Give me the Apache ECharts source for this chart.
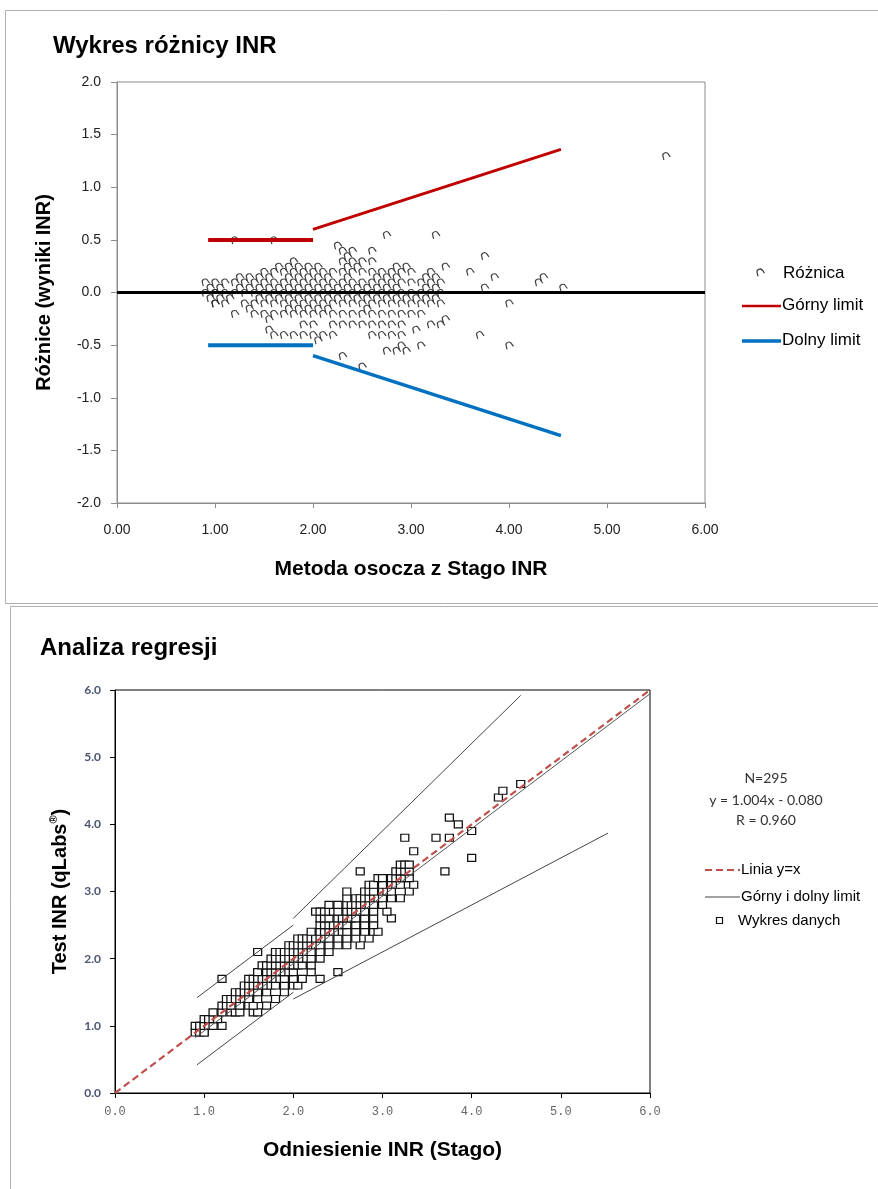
<!DOCTYPE html>
<html><head><meta charset="utf-8">
<script src="https://cdn.jsdelivr.net/npm/echarts@6/dist/echarts.min.js"></script>
<style>html,body{margin:0;padding:0;background:#fff}#c{width:878px;height:1189px}</style>
</head><body><div id="c"></div>
<script>
// ---- DATA ----
// Test INR levels (qLabs) and the reference (Stago) INR values observed at each level
const testLevels = [0.9, 1.0, 1.1, 1.2, 1.3, 1.4, 1.5, 1.6, 1.7, 1.8, 1.9, 2.0, 2.1, 2.2, 2.3, 2.4, 2.5, 2.6, 2.7, 2.8, 2.9, 3.0, 3.1, 3.2, 3.3, 3.4, 3.5, 3.6, 3.8, 3.9, 4.0, 4.1, 4.4, 4.5, 4.6, 6.9];
const refAtLevel = [
  [0.9, 0.95, 1.0, 1.0],
  [0.9, 0.95, 1.0, 1.0, 1.05, 1.1, 1.2],
  [1.0, 1.05, 1.1, 1.15],
  [1.1, 1.2, 1.3, 1.35, 1.4, 1.55, 1.6],
  [1.2, 1.25, 1.3, 1.4, 1.5, 1.55, 1.7],
  [1.25, 1.3, 1.35, 1.4, 1.45, 1.5, 1.6, 1.8],
  [1.35, 1.4, 1.45, 1.5, 1.55, 1.6, 1.7, 1.9],
  [1.45, 1.5, 1.55, 1.6, 1.65, 1.7, 1.75, 1.8, 1.9, 2.0, 2.05],
  [1.2, 1.5, 1.55, 1.6, 1.65, 1.7, 1.75, 1.8, 1.85, 1.9, 2.0, 2.1, 2.3],
  [1.6, 1.7, 1.75, 1.8, 1.85, 1.9, 1.95, 2.0, 2.2, 2.5],
  [1.65, 1.7, 1.75, 1.8, 1.85, 1.9, 1.95, 2.0, 2.05, 2.1, 2.2],
  [1.75, 1.8, 1.85, 1.9, 1.95, 2.0, 2.05, 2.1, 2.15, 2.2, 2.3],
  [1.6, 1.8, 1.85, 1.9, 1.95, 2.0, 2.05, 2.1, 2.15, 2.2, 2.3, 2.4],
  [1.95, 2.0, 2.05, 2.1, 2.15, 2.2, 2.25, 2.3, 2.4, 2.5, 2.6, 2.75],
  [2.05, 2.1, 2.15, 2.2, 2.25, 2.3, 2.35, 2.4, 2.5, 2.6, 2.7, 2.85],
  [2.2, 2.3, 2.35, 2.4, 2.45, 2.5, 2.55, 2.6, 2.7, 2.8, 2.9, 2.95],
  [2.3, 2.35, 2.4, 2.45, 2.5, 2.55, 2.6, 2.7, 2.8, 2.9],
  [2.3, 2.35, 2.4, 2.5, 2.55, 2.6, 2.65, 2.7, 2.8, 2.9, 3.1],
  [2.25, 2.3, 2.35, 2.4, 2.45, 2.5, 2.6, 2.65, 2.7, 2.75, 2.8, 2.9, 3.05],
  [2.4, 2.5, 2.6, 2.65, 2.7, 2.75, 2.8, 2.85, 2.9, 3.0],
  [2.6, 2.7, 2.75, 2.8, 2.85, 2.9, 2.95, 3.0, 3.1, 3.2],
  [2.6, 2.8, 2.85, 2.9, 3.0, 3.05, 3.1, 3.3],
  [2.85, 2.9, 3.0, 3.1, 3.15, 3.2, 3.35],
  [2.95, 3.0, 3.1, 3.15, 3.2, 3.25, 3.3],
  [2.75, 3.15, 3.2, 3.25, 3.3, 3.7],
  [3.2, 3.25, 3.3],
  [4.0],
  [3.35],
  [3.25, 3.6, 3.75],
  [4.0],
  [3.85],
  [3.75],
  [4.3],
  [4.35],
  [4.55],
  [5.6]
];

// Difference plot limits (Stago INR vs difference)
const diffLimitXLow = [0.93, 2.0];
const diffUpperLow = [0.5, 0.5];
const diffLowerLow = [-0.5, -0.5];
const diffLimitXHigh = [2.0, 4.53];
const diffUpperHigh = [0.6, 1.36];
const diffLowerHigh = [-0.6, -1.36];
const zeroX = [0, 6];
const zeroY = [0, 0];

// Regression plot lines
const identityX = [0, 6];
const identityY = [0, 6];
const regX = [0.9, 6.0];
const regY = [0.824, 5.944];
const upLimXLow = [0.92, 2.0];
const upLimYLow = [1.42, 2.5];
const upLimXHigh = [2.0, 4.55];
const upLimYHigh = [2.6, 5.92];
const loLimXLow = [0.92, 2.0];
const loLimYLow = [0.42, 1.5];
const loLimXHigh = [2.0, 5.53];
const loLimYHigh = [1.4, 3.87];

// Axis ticks
const diffXTicks = [0, 1, 2, 3, 4, 5, 6];
const diffYRange = [-2.0, 2.0, 0.5];
const regRange = [0, 6, 1];
const statsLines = ['N=295', 'y = 1.004x - 0.080', 'R = 0.960'];

// ---- BUILD ----
const pairs = [];
testLevels.forEach((t, i) => refAtLevel[i].forEach(r => pairs.push([r, t])));
const diffPairs = pairs.map(p => [p[0], Math.round((p[1] - p[0]) * 100) / 100]);
const zip = (a, b) => a.map((v, i) => [v, b[i]]);

const F = 'Liberation Sans, Arial, sans-serif';
const archPath = 'path://M0,10 L1,4 C1,1.5 3,0 5,0 C7,0 9,1.5 9,4 L10,10';

const chart = echarts.init(document.getElementById('c'), null, {renderer: 'canvas'});

const lineS = (xi, data, color, width, type) => ({
  type: 'line', xAxisIndex: xi, yAxisIndex: xi, data, symbol: 'none', silent: true,
  clip: true, lineStyle: {color, width, type: type || 'solid'}, animation: false
});

const option = {
  animation: false,
  textStyle: {fontFamily: F},
  grid: [
    {left: 117, top: 82, width: 588, height: 421, show: true, borderColor: '#8c8c8c', borderWidth: 1},
    {left: 115, top: 690, width: 535, height: 403, show: true, borderColor: '#000', borderWidth: 1}
  ],
  xAxis: [
    {gridIndex: 0, type: 'value', min: diffXTicks[0], max: diffXTicks[diffXTicks.length - 1], interval: 1,
     axisLine: {onZero: false, lineStyle: {color: '#8c8c8c'}},
     axisTick: {show: true, length: 5, lineStyle: {color: '#8c8c8c'}},
     axisLabel: {formatter: v => v.toFixed(2), color: '#222', fontSize: 14, margin: 20, fontFamily: F},
     splitLine: {show: false},
     name: 'Metoda osocza z Stago INR', nameLocation: 'middle', nameGap: 56,
     nameTextStyle: {fontSize: 21, fontWeight: 'bold', color: '#000', fontFamily: F}},
    {gridIndex: 1, type: 'value', min: regRange[0], max: regRange[1], interval: regRange[2],
     axisLine: {onZero: false, lineStyle: {color: '#000'}},
     axisTick: {show: true, length: 5, lineStyle: {color: '#000'}},
     axisLabel: {formatter: v => v.toFixed(1), color: '#666', fontSize: 12, margin: 13, fontFamily: 'Liberation Mono, monospace'},
     splitLine: {show: false},
     name: 'Odniesienie INR (Stago)', nameLocation: 'middle', nameGap: 47,
     nameTextStyle: {fontSize: 21, fontWeight: 'bold', color: '#000', fontFamily: F}}
  ],
  yAxis: [
    {gridIndex: 0, type: 'value', min: diffYRange[0], max: diffYRange[1], interval: diffYRange[2],
     axisLine: {show: true, onZero: false, lineStyle: {color: '#8c8c8c'}},
     axisTick: {show: true, length: 6, lineStyle: {color: '#8c8c8c'}},
     axisLabel: {formatter: v => v.toFixed(1), color: '#222', fontSize: 14, margin: 16, fontFamily: F},
     splitLine: {show: false},
     name: 'Różnice (wyniki INR)', nameLocation: 'middle', nameGap: 63,
     nameTextStyle: {fontSize: 20, fontWeight: 'bold', color: '#000', fontFamily: F}},
    {gridIndex: 1, type: 'value', min: regRange[0], max: regRange[1], interval: regRange[2],
     axisLine: {show: true, onZero: false, lineStyle: {color: '#000'}},
     axisTick: {show: true, length: 5, lineStyle: {color: '#000'}},
     axisLabel: {formatter: v => v.toFixed(1), color: '#4b5675', fontSize: 12, margin: 14, fontFamily: 'Lato, sans-serif', fontWeight: 'bold'},
     splitLine: {show: false},
     name: '{m|Test INR (qLabs}{s|®}{m|)}', nameLocation: 'middle', nameGap: 43,
     nameTextStyle: {rich: {
       m: {fontSize: 20, fontWeight: 'bold', color: '#000', fontFamily: F},
       s: {fontSize: 11, fontWeight: 'bold', color: '#000', fontFamily: F, verticalAlign: 'top', lineHeight: 24}
     }}}
  ],
  series: [
    // chart 1
    lineS(0, zip(zeroX, zeroY), '#000', 3),
    {type: 'scatter', xAxisIndex: 0, yAxisIndex: 0, data: diffPairs, symbol: archPath,
     symbolSize: [7, 6], symbolRotate: 25, silent: true, clip: true,
     itemStyle: {color: 'rgba(0,0,0,0)', borderColor: '#2a2a2a', borderWidth: 1.1, opacity: 0.9}},
    lineS(0, zip(diffLimitXLow, diffUpperLow), '#c00000', 4),
    lineS(0, zip(diffLimitXHigh, diffUpperHigh), '#c00000', 3),
    lineS(0, zip(diffLimitXLow, diffLowerLow), '#0070c0', 4),
    lineS(0, zip(diffLimitXHigh, diffLowerHigh), '#0070c0', 3.5),
    // chart 2
    {type: 'scatter', xAxisIndex: 1, yAxisIndex: 1, data: pairs, symbol: 'rect',
     symbolSize: [8, 7], silent: true, clip: true,
     itemStyle: {color: '#fff', borderColor: '#111', borderWidth: 1.2, opacity: 1}},
    lineS(1, zip(upLimXLow, upLimYLow), '#444', 1),
    lineS(1, zip(upLimXHigh, upLimYHigh), '#444', 1),
    lineS(1, zip(loLimXLow, loLimYLow), '#444', 1),
    lineS(1, zip(loLimXHigh, loLimYHigh), '#444', 1),
    lineS(1, zip(regX, regY), '#555', 1),
    lineS(1, zip(identityX, identityY), '#c0504d', 2.2, [7, 4])
  ],
  graphic: [
    {type: 'rect', shape: {x: 5.5, y: 10.5, width: 880, height: 593}, style: {fill: 'none', stroke: '#b0b0b0', lineWidth: 1}, silent: true, z: 0},
    {type: 'rect', shape: {x: 10.5, y: 606.5, width: 880, height: 600}, style: {fill: 'none', stroke: '#b0b0b0', lineWidth: 1}, silent: true, z: 0},
    {type: 'text', x: 53, y: 46, style: {text: 'Wykres różnicy INR', font: 'bold 24px ' + F, fill: '#000', verticalAlign: 'middle'}},
    {type: 'text', x: 40, y: 648, style: {text: 'Analiza regresji', font: 'bold 24px ' + F, fill: '#000', verticalAlign: 'middle'}},
    // legend chart 1
    {type: 'polyline', x: 760, y: 272, rotation: 0.45,
     shape: {points: [[-3.5, 3], [-3, -0.5], [-2, -2.5], [0, -3], [2, -2.5], [3, -0.5], [3.5, 3]]},
     style: {fill: 'none', stroke: '#2a2a2a', lineWidth: 1.1}},
    {type: 'text', x: 783, y: 273, style: {text: 'Różnica', font: '17px ' + F, fill: '#000', verticalAlign: 'middle'}},
    {type: 'line', shape: {x1: 742, y1: 306, x2: 781, y2: 306}, style: {stroke: '#c00000', lineWidth: 2.5}},
    {type: 'text', x: 782, y: 305, style: {text: 'Górny limit', font: '17px ' + F, fill: '#000', verticalAlign: 'middle'}},
    {type: 'line', shape: {x1: 742, y1: 341, x2: 781, y2: 341}, style: {stroke: '#0070c0', lineWidth: 3.5}},
    {type: 'text', x: 782, y: 340, style: {text: 'Dolny limit', font: '17px ' + F, fill: '#000', verticalAlign: 'middle'}},
    // stats chart 2
    {type: 'text', x: 766, y: 778, style: {text: statsLines[0], font: '14px Lato, sans-serif', fill: '#333', align: 'center', verticalAlign: 'middle'}},
    {type: 'text', x: 766, y: 800, style: {text: statsLines[1], font: '14px Lato, sans-serif', fill: '#333', align: 'center', verticalAlign: 'middle'}},
    {type: 'text', x: 766, y: 820, style: {text: statsLines[2], font: '14px Lato, sans-serif', fill: '#333', align: 'center', verticalAlign: 'middle'}},
    // legend chart 2
    {type: 'line', shape: {x1: 705, y1: 870, x2: 740, y2: 870}, style: {stroke: '#c0504d', lineWidth: 2.2, lineDash: [7, 4]}},
    {type: 'text', x: 741, y: 870, style: {text: 'Linia y=x', font: '15px ' + F, fill: '#000', verticalAlign: 'middle'}},
    {type: 'line', shape: {x1: 705, y1: 897, x2: 740, y2: 897}, style: {stroke: '#444', lineWidth: 1}},
    {type: 'text', x: 741, y: 897, style: {text: 'Górny i dolny limit', font: '15px ' + F, fill: '#000', verticalAlign: 'middle'}},
    {type: 'rect', shape: {x: 716.5, y: 917.5, width: 6, height: 6}, style: {fill: '#fff', stroke: '#111', lineWidth: 1.2}},
    {type: 'text', x: 738, y: 921, style: {text: 'Wykres danych', font: '15px ' + F, fill: '#000', verticalAlign: 'middle'}}
  ]
};
chart.setOption(option);
</script>
</body></html>
